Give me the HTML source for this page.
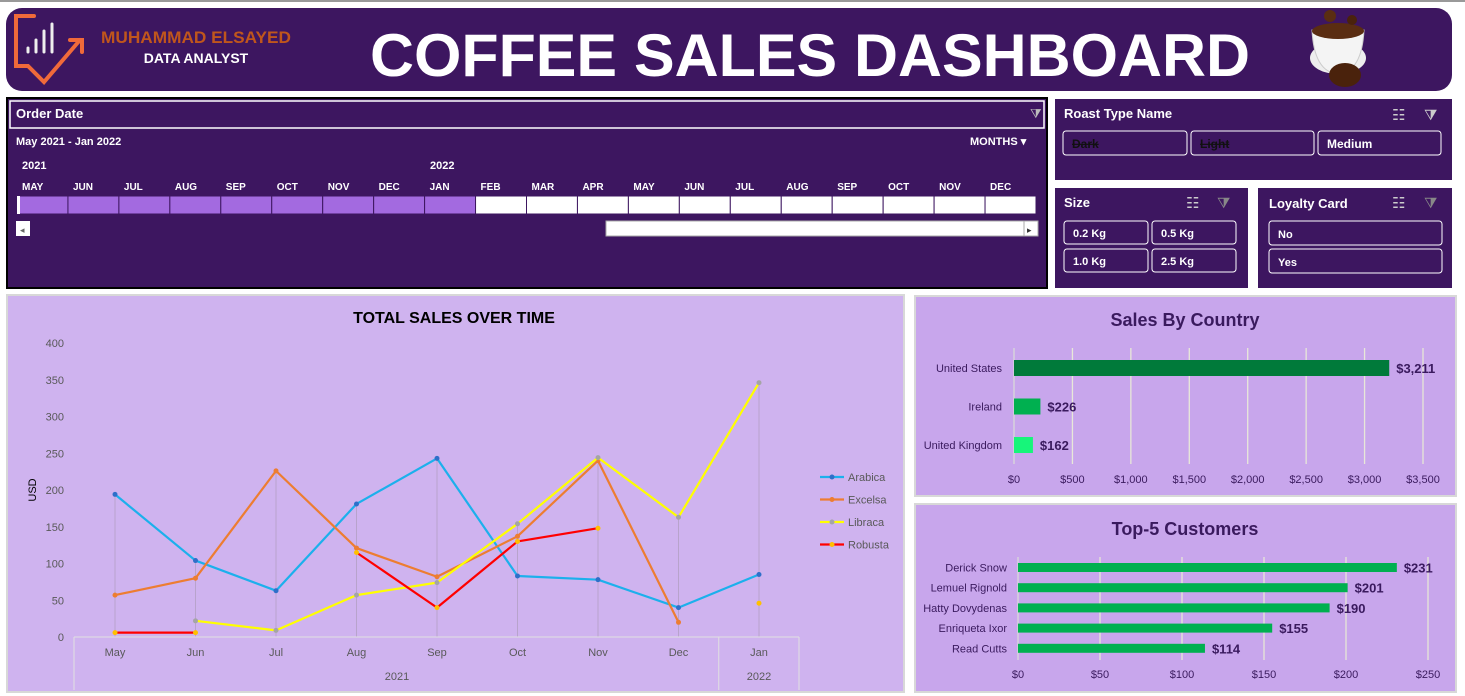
<!DOCTYPE html>
<html><head><meta charset="utf-8"><style>
html,body{margin:0;padding:0;background:#fff;}
svg{display:block;font-family:"Liberation Sans",sans-serif;}
</style></head><body>
<svg id="s" width="1465" height="696" viewBox="0 0 1465 696" xmlns="http://www.w3.org/2000/svg">
<rect x="0" y="0" width="1465" height="2" fill="#999"/>
<!-- header -->
<g>
<rect x="6" y="8" width="1446" height="83" rx="16" fill="#3d1660"/>
<g fill="none" stroke-linecap="round">
<path d="M34 16 H16 V66 H28 L44 82 L80 40" stroke="#f06a3a" stroke-width="4"/>
<path d="M70 40 H82 V52" stroke="#f06a3a" stroke-width="4"/>
<path d="M28 52 V48 M36 52 V40 M44 52 V31 M52 52 V24" stroke="#eee" stroke-width="3"/>
</g>
<text x="196" y="43" text-anchor="middle" font-size="17" font-weight="bold" fill="#c0561c" textLength="190" lengthAdjust="spacingAndGlyphs">MUHAMMAD ELSAYED</text>
<text x="196" y="63" text-anchor="middle" font-size="14" font-weight="bold" fill="#fff">DATA ANALYST</text>
<text x="810" y="76" text-anchor="middle" font-size="60" font-weight="bold" fill="#fff" textLength="880" lengthAdjust="spacingAndGlyphs">COFFEE SALES DASHBOARD</text>
<g>
<ellipse cx="1338" cy="58" rx="28" ry="16" fill="#eee"/>
<path d="M1312 30 Q1314 72 1338 74 Q1362 72 1364 30 Z" fill="#f4f4f4" stroke="#ccc"/>
<ellipse cx="1338" cy="31" rx="26" ry="8" fill="#5a2d12"/>
<circle cx="1330" cy="16" r="6" fill="#5a2d12"/><circle cx="1352" cy="20" r="5" fill="#4a220c"/>
<ellipse cx="1345" cy="75" rx="16" ry="12" fill="#4a220c"/>
</g>
</g>

<!-- order date timeline -->
<g>
<rect x="7" y="98" width="1040" height="190" fill="#3d1660" stroke="#000" stroke-width="2"/>
<rect x="10" y="101" width="1034" height="27" fill="#3d1660" stroke="#fff" stroke-width="1.5"/>
<text x="16" y="118" font-size="13" font-weight="bold" fill="#fff">Order Date</text>
<text x="1030" y="118" font-size="13" fill="#bbb">⧩</text>
<text x="16" y="145" font-size="11" font-weight="bold" fill="#fff">May 2021 - Jan 2022</text>
<text x="970" y="145" font-size="11" font-weight="bold" fill="#fff">MONTHS ▾</text>
<text x="22" y="169" font-size="11" font-weight="bold" fill="#fff">2021</text>
<text x="430" y="169" font-size="11" font-weight="bold" fill="#fff">2022</text>
<g id="tl"></g>
<rect x="16" y="221" width="14" height="15" fill="#fff"/>
<text x="20" y="233" font-size="9" fill="#666">◂</text>
<rect x="606" y="221" width="418" height="15" fill="#fff" stroke="#aaa"/>
<rect x="1024" y="221" width="14" height="15" fill="#fff" stroke="#aaa"/>
<text x="1027" y="233" font-size="9" fill="#333">▸</text>
</g>

<!-- slicers -->
<g>
<rect x="1055" y="99" width="397" height="81" fill="#3d1660"/>
<text x="1064" y="118" font-size="13" font-weight="bold" fill="#fff">Roast Type Name</text>
<text x="1392" y="120" font-size="15" fill="#ccc">☷</text><text x="1424" y="120" font-size="15" fill="#ccc">⧩</text>
<rect x="1063" y="131" width="124" height="24" rx="3" fill="none" stroke="#fff"/>
<text x="1072" y="148" font-size="12" font-weight="bold" fill="#111" text-decoration="line-through">Dark</text>
<rect x="1191" y="131" width="123" height="24" rx="3" fill="none" stroke="#fff"/>
<text x="1200" y="148" font-size="12" font-weight="bold" fill="#111" text-decoration="line-through">Light</text>
<rect x="1318" y="131" width="123" height="24" rx="3" fill="none" stroke="#fff"/>
<text x="1327" y="148" font-size="12" font-weight="bold" fill="#fff">Medium</text>
</g>
<g>
<rect x="1055" y="188" width="193" height="100" fill="#3d1660"/>
<text x="1064" y="207" font-size="13" font-weight="bold" fill="#fff">Size</text>
<text x="1186" y="208" font-size="15" fill="#ccc">☷</text><text x="1217" y="208" font-size="15" fill="#888">⧩</text>
<rect x="1064" y="221" width="84" height="23" rx="3" fill="none" stroke="#fff"/>
<text x="1073" y="237" font-size="11" font-weight="bold" fill="#fff">0.2 Kg</text>
<rect x="1152" y="221" width="84" height="23" rx="3" fill="none" stroke="#fff"/>
<text x="1161" y="237" font-size="11" font-weight="bold" fill="#fff">0.5 Kg</text>
<rect x="1064" y="249" width="84" height="23" rx="3" fill="none" stroke="#fff"/>
<text x="1073" y="265" font-size="11" font-weight="bold" fill="#fff">1.0 Kg</text>
<rect x="1152" y="249" width="84" height="23" rx="3" fill="none" stroke="#fff"/>
<text x="1161" y="265" font-size="11" font-weight="bold" fill="#fff">2.5 Kg</text>
</g>
<g>
<rect x="1258" y="188" width="194" height="100" fill="#3d1660"/>
<text x="1269" y="208" font-size="13" font-weight="bold" fill="#fff">Loyalty Card</text>
<text x="1392" y="208" font-size="15" fill="#ccc">☷</text><text x="1424" y="208" font-size="15" fill="#888">⧩</text>
<rect x="1269" y="221" width="173" height="24" rx="3" fill="none" stroke="#fff"/>
<text x="1278" y="238" font-size="11" font-weight="bold" fill="#fff">No</text>
<rect x="1269" y="249" width="173" height="24" rx="3" fill="none" stroke="#fff"/>
<text x="1278" y="266" font-size="11" font-weight="bold" fill="#fff">Yes</text>
</g>

<!-- line chart -->
<g>
<rect x="7" y="295" width="897" height="397" fill="#cfb3ef" stroke="#d8d8d8" stroke-width="2"/>
<text x="454" y="323" text-anchor="middle" font-size="16" font-weight="bold" fill="#000">TOTAL SALES OVER TIME</text>
<text transform="translate(36,490) rotate(-90)" text-anchor="middle" font-size="11" fill="#000">USD</text>
<g id="lc"></g>
</g>

<!-- country chart -->
<g>
<rect x="915" y="296" width="541" height="200" fill="#c8a6ec" stroke="#d8d8d8" stroke-width="2"/>
<text x="1185" y="326" text-anchor="middle" font-size="18" font-weight="bold" fill="#3a1a5e">Sales By Country</text>
<g id="cc"></g>
</g>
<g>
<rect x="915" y="504" width="541" height="188" fill="#c8a6ec" stroke="#d8d8d8" stroke-width="2"/>
<text x="1185" y="535" text-anchor="middle" font-size="18" font-weight="bold" fill="#3a1a5e">Top-5 Customers</text>
<g id="cu"></g>
</g>
</svg>
<script>
// timeline data
const tlMonths = ["MAY","JUN","JUL","AUG","SEP","OCT","NOV","DEC","JAN","FEB","MAR","APR","MAY","JUN","JUL","AUG","SEP","OCT","NOV","DEC"];
const tlSelected = 9;
// line chart data
const months = ["May","Jun","Jul","Aug","Sep","Oct","Nov","Dec","Jan"];
const yTicks = [0,50,100,150,200,250,300,350,400];
const arabica = [194,104,63,181,243,83,78,40,85];
const excelsa = [57,80,226,121,82,137,240,20,null];
const libraca = [null,22,9,57,74,154,244,163,346];
const robusta = [6,6,null,115,40,130,148,null,46];
const seriesNames = ["Arabica","Excelsa","Libraca","Robusta"];
// country data
const countries = ["United States","Ireland","United Kingdom"];
const countrySales = [3211,226,162];
const countryTicks = [0,500,1000,1500,2000,2500,3000,3500];
// customers data
const customers = ["Derick Snow","Lemuel Rignold","Hatty Dovydenas","Enriqueta Ixor","Read Cutts"];
const customerSales = [231,201,190,155,114];
const customerTicks = [0,50,100,150,200,250];

const NS="http://www.w3.org/2000/svg";
function mk(p,t,a,txt){const e=document.createElementNS(NS,t);for(const k in a)e.setAttribute(k,a[k]);if(txt!==undefined)e.textContent=txt;p.appendChild(e);return e;}

// timeline
(function(){
 const g=document.getElementById('tl');const x0=17,x1=1036,w=(x1-x0)/tlMonths.length;
 tlMonths.forEach((m,i)=>{
  const t=mk(g,'text',{x:x0+i*w+5,y:190,'font-size':10,'font-weight':'bold',fill:'#fff'},m);
  
  
  const r=mk(g,'rect',{x:x0+i*w,y:196,width:w,height:18,fill:i<tlSelected?'#a36ae0':'#fff',stroke:'#3d1660','stroke-width':1});
  
  
 });
 mk(g,'rect',{x:x0,y:196,width:3,height:18,fill:'#fff'});
})();

// line chart
(function(){
 const g=document.getElementById('lc');
 const X=i=>115+i*80.5, Y=v=>637-v*(294/400);
 yTicks.forEach(v=>{const t=mk(g,'text',{x:64,y:Y(v)+4,'text-anchor':'end','font-size':11,fill:'#595959'},v);
  });
 const all=[arabica,excelsa,libraca,robusta];
 months.forEach((m,i)=>{
  let mx=0;all.forEach(s=>{if(s[i]!=null&&s[i]>mx)mx=s[i];});
  const l=mk(g,'line',{x1:X(i),x2:X(i),y1:Y(mx),y2:637,stroke:'#b8a3cc','stroke-width':1});
  
  const t=mk(g,'text',{x:X(i),y:656,'text-anchor':'middle','font-size':11,fill:'#595959'},m);
  
 });
 mk(g,'line',{x1:74,x2:799,y1:637,y2:637,stroke:'#e0e0e0'});
 [74,X(7.5),799].forEach(x=>mk(g,'line',{x1:x,x2:x,y1:637,y2:690,stroke:'#e0e0e0'}));
 const y1=mk(g,'text',{x:397,y:680,'text-anchor':'middle','font-size':11,fill:'#595959'},'2021');
 
 const y2=mk(g,'text',{x:X(8),y:680,'text-anchor':'middle','font-size':11,fill:'#595959'},'2022');
 
 const cols=['#1cb0ec','#ed7d31','#ffff00','#ff0000'], mcols=['#2f6fc9','#ed7d31','#a5a5a5','#ffc000'];
 all.forEach((s,k)=>{
  let d='',pen=false;
  s.forEach((v,i)=>{if(v==null){pen=false;return;}d+=(pen?'L':'M')+X(i)+' '+Y(v)+' ';pen=true;});
  const p=mk(g,'path',{d:d,fill:'none',stroke:cols[k],'stroke-width':2.2,'stroke-linejoin':'round'});
  
  s.forEach((v,i)=>{if(v==null)return;const c=mk(g,'circle',{cx:X(i),cy:Y(v),r:2.5,fill:mcols[k]});
   });
  const ly=477+k*22.5;
  const lg=mk(g,'g',{});
  
  mk(lg,'line',{x1:820,x2:844,y1:ly,y2:ly,stroke:cols[k],'stroke-width':2.2});
  mk(lg,'circle',{cx:832,cy:ly,r:2.5,fill:mcols[k]});
  mk(lg,'text',{x:848,y:ly+4,'font-size':11,fill:'#595959'},seriesNames[k]);
 });
})();

function barChart(id,cats,vals,ticks,o){
 const g=document.getElementById(id);
 const X=v=>o.x0+(v/ticks[ticks.length-1])*(o.x1-o.x0);
 ticks.forEach(v=>{
  const l=mk(g,'line',{x1:X(v),x2:X(v),y1:o.gt,y2:o.gb,stroke:v===0?'#d9d9d9':'#e8e8d8','stroke-width':1.3});
  
  const t=mk(g,'text',{x:X(v),y:o.ty,'text-anchor':'middle','font-size':11,fill:'#3a1a5e'},'$'+v.toLocaleString('en-US'));
  
 });
 cats.forEach((c,i)=>{
  const cy=o.c0+i*o.step;
  const t=mk(g,'text',{x:o.lx,y:cy+4,'text-anchor':'end','font-size':11,fill:'#3a1a5e'},c);
  
  const r=mk(g,'rect',{x:o.x0,y:cy-o.bh/2,width:X(vals[i])-o.x0,height:o.bh,fill:o.cols[i%o.cols.length]});
  
  const v=mk(g,'text',{x:X(vals[i])+7,y:cy+5,'font-size':13,'font-weight':'bold',fill:'#3a1a5e'},'$'+vals[i].toLocaleString('en-US'));
  
 });
}
barChart('cc',countries,countrySales,countryTicks,{x0:1014,x1:1423,gt:348,gb:464,ty:483,c0:368,step:38.5,bh:16,lx:1002,cols:['#007a3a','#00b050','#17f57a']});
barChart('cu',customers,customerSales,customerTicks,{x0:1018,x1:1428,gt:557,gb:660,ty:678,c0:567.5,step:20.2,bh:9,lx:1007,cols:['#00b050']});
</script>
</body></html>
